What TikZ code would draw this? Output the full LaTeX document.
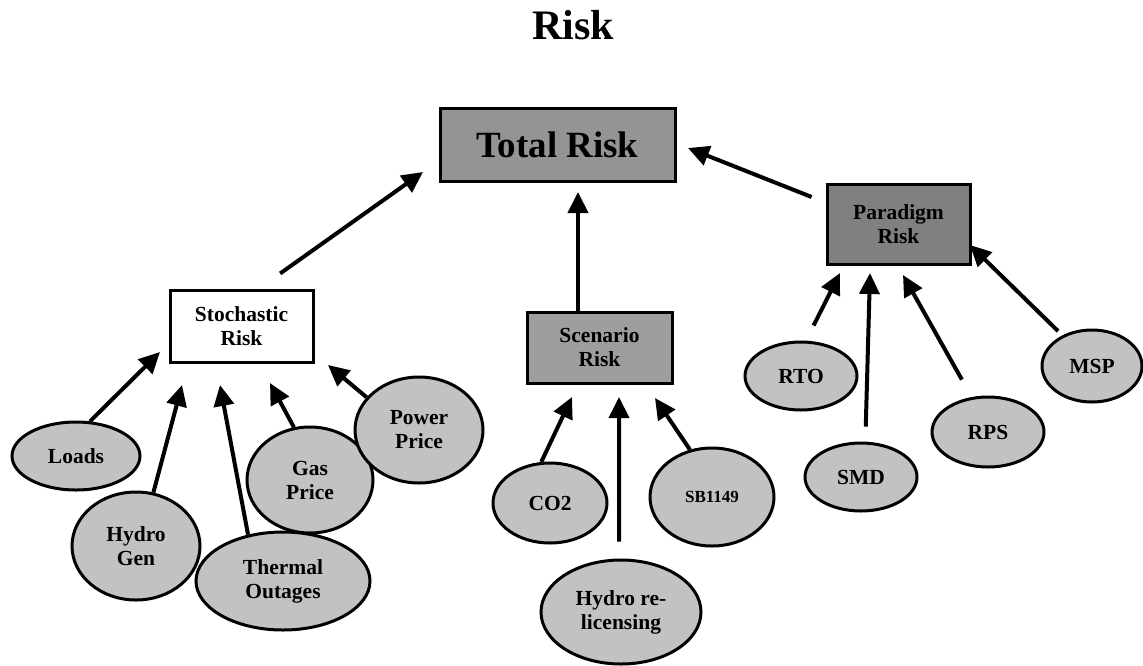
\documentclass[tikz,border=0pt]{standalone}
\usepackage{fontspec}
\setmainfont{Liberation Serif}
\usetikzlibrary{arrows.meta,calc,shapes.geometric}
\begin{document}
\begin{tikzpicture}[x=1pt,y=-1pt,
  lbl/.style={font=\fontsize{21.5}{24}\selectfont\bfseries, align=center, inner sep=0pt},
  riskbox/.style={draw, line width=3pt, lbl},
  factor/.style={ellipse, draw, line width=3pt, fill=black!24, lbl},
  arr/.style={line width=4pt, -{Triangle[length=21pt,width=20pt]}}]

\path[use as bounding box] (0,0) rectangle (1143,665);

% title
\node[font=\fontsize{42}{42}\selectfont\bfseries, anchor=base, inner sep=0pt] (title) at (573,39) {Risk};

% risk categories
\node[riskbox, fill=black!42, minimum width=235pt, minimum height=73pt,
      font=\fontsize{37}{37}\selectfont\bfseries] (total) at (557.5,144.5) {Total Risk};
\node[riskbox, fill=white, minimum width=143pt, minimum height=72pt] (stoch) at (241.5,326) {Stochastic\\Risk};
\node[riskbox, fill=black!38, minimum width=145pt, minimum height=71pt] (scen) at (599.5,347.5) {Scenario\\Risk};
\node[riskbox, fill=black!50, minimum width=143pt, minimum height=80pt] (para) at (898.5,224) {Paradigm\\Risk};

% stochastic factors
\node[factor, minimum width=128pt, minimum height=68pt] (loads) at (76,456) {Loads};
\node[factor, minimum width=128pt, minimum height=108pt] (hgen) at (136,546) {Hydro\\Gen};
\node[factor, minimum width=174pt, minimum height=98pt] (therm) at (283,581) {Thermal\\Outages};
\node[factor, minimum width=126pt, minimum height=106pt] (gas) at (310,480) {Gas\\Price};
\node[factor, minimum width=128pt, minimum height=106pt] (power) at (419,430) {Power\\Price};

% scenario factors
\node[factor, minimum width=114pt, minimum height=80pt] (co2) at (550,503) {CO2};
\node[factor, minimum width=160pt, minimum height=104pt] (hrel) at (621,612) {Hydro re-\\licensing};
\node[factor, minimum width=124pt, minimum height=98pt, font=\fontsize{17}{19}\selectfont\bfseries] (sb) at (712,497) {SB1149};

% paradigm factors
\node[factor, minimum width=112pt, minimum height=68pt] (rto) at (801,376) {RTO};
\node[factor, minimum width=112pt, minimum height=68pt] (smd) at (861,477) {SMD};
\node[factor, minimum width=112pt, minimum height=70pt] (rps) at (988,432) {RPS};
\node[factor, minimum width=100pt, minimum height=72pt] (msp) at (1092,366) {MSP};

% arrow tips
\coordinate (tTotS) at (423,172);
\coordinate (tTotC) at (578,192);
\coordinate (tTotP) at (688,148);
\coordinate (tLoads) at (160,352);
\coordinate (tHgen) at (182,385);
\coordinate (tTherm) at (220,385);
\coordinate (tGas) at (270,383);
\coordinate (tPower) at (328,365);
\coordinate (tCO2) at (572,397);
\coordinate (tHrel) at (619,397);
\coordinate (tSB) at (655,398);
\coordinate (tRTO) at (840,273);
\coordinate (tSMD) at (870,273);
\coordinate (tRPS) at (903,275);
\coordinate (tMSP) at (970,245);

% connectors into total risk
\draw[arr, shorten <=26pt] ([xshift=17.5pt]stoch.north) -- (tTotS);
\draw[arr] ([xshift=-21.5pt]scen.north) -- (tTotC);
\draw[arr, shorten <=15pt] ([yshift=21.5pt]para.west) -- (tTotP);

% connectors into stochastic risk
\draw[arr] (loads.68) -- (tLoads);
\draw[arr] (hgen.72) -- (tHgen);
\draw[arr] (therm.127) -- (tTherm);
\draw[arr] (gas.107) -- (tGas);
\draw[arr] (power.148) -- (tPower);

% connectors into scenario risk
\draw[arr] (co2.102) -- (tCO2);
\draw[arr, shorten <=17pt] (hrel.92) -- (tHrel);
\draw[arr] (sb.115) -- (tSB);

% connectors into paradigm risk
\draw[arr, shorten <=17pt] (rto.82) -- (tRTO);
\draw[arr, shorten <=15pt] (smd.83) -- (tSMD);
\draw[arr, shorten <=20pt] (rps.115) -- (tRPS);
\draw[arr, shorten <=6pt] (msp.134) -- (tMSP);

\end{tikzpicture}
\end{document}
